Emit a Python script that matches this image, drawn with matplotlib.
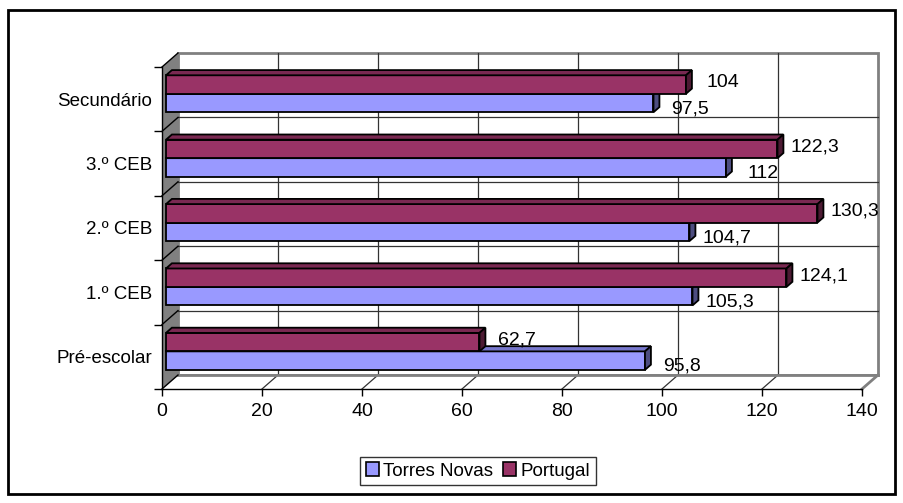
import matplotlib.pyplot as plt
from matplotlib.patches import Polygon, Rectangle, Patch

# the data
categories = ['Pré-escolar', '1.º CEB', '2.º CEB', '3.º CEB', 'Secundário']
torres_novas = [95.8, 105.3, 104.7, 112, 97.5]
portugal = [62.7, 124.1, 130.3, 122.3, 104]
x_ticks = [0, 20, 40, 60, 80, 100, 120, 140]
series_names = ['Torres Novas', 'Portugal']

plt.rcParams['font.family'] = ['Liberation Sans', 'DejaVu Sans']

W, H = 904, 503
fig = plt.figure(figsize=(W / 100, H / 100), dpi=100)
# the axes is the front plane of the 3d box
ax = fig.add_axes([162 / W, (H - 389) / H, 700 / W, 322 / H])
ax.set_xlim(0, 140)
ax.set_ylim(0, 5)

# depth of the box in data units
DX = 16 / 5.0
DY = 14 / 64.4
XMAX = 140

# back wall
ax.add_patch(Rectangle((DX, DY), XMAX, 5, facecolor='white', edgecolor='#808080',
                       lw=2, clip_on=False, zorder=1))
for v in x_ticks[1:-1]:
    ax.plot([v + DX, v + DX], [DY, 5 + DY], color='#333333', lw=0.9, clip_on=False, zorder=1.1)
for k in range(1, 5):
    ax.plot([DX, XMAX + DX], [k + DY, k + DY], color='#333333', lw=0.9, clip_on=False, zorder=1.1)

# floor
ax.add_patch(Polygon([(0, 0), (XMAX, 0), (XMAX + DX, DY), (DX, DY)], closed=True,
                     facecolor='white', edgecolor='none', clip_on=False, zorder=1.2))
for v in x_ticks[1:-1]:
    ax.plot([v, v + DX], [0, DY], color='#333333', lw=0.9, clip_on=False, zorder=1.3)
ax.plot([XMAX, XMAX + DX], [0, DY], color='#808080', lw=2, clip_on=False, zorder=1.3)
ax.plot([DX, XMAX + DX], [DY, DY], color='#808080', lw=2, clip_on=False, zorder=1.3)

# left side wall
ax.add_patch(Polygon([(0, 0), (DX, DY), (DX, 5 + DY), (0, 5)], closed=True,
                     facecolor='#808080', edgecolor='none', clip_on=False, zorder=1.4))
for k in range(0, 6):
    ax.plot([0, DX], [k, k + DY], color='black', lw=1, clip_on=False, zorder=1.5)

# bars with a little 3d face on top and on the right
h = 0.287
f0, f1 = 0.25, 0.62
ddx, ddy = (f1 - f0) * DX, (f1 - f0) * DY
x0 = f0 * DX

colors = {'Torres Novas': ('#9999FF', '#7777CC', '#4D4D80'),
          'Portugal': ('#993366', '#7A2952', '#4D1A33')}


def bar3d(y, value, cols, z):
    front, top, side = cols
    ax.barh(y, value, left=x0, height=h, color=front, edgecolor='black', lw=1.3, zorder=z)
    yb, yt = y - h / 2, y + h / 2
    x1 = x0 + value
    ax.add_patch(Polygon([(x0, yt), (x0 + ddx, yt + ddy), (x1 + ddx, yt + ddy), (x1, yt)],
                         closed=True, facecolor=top, edgecolor='black', lw=1.3, zorder=z))
    ax.add_patch(Polygon([(x1, yb), (x1, yt), (x1 + ddx, yt + ddy), (x1 + ddx, yb + ddy)],
                         closed=True, facecolor=side, edgecolor='black', lw=1.3, zorder=z))


def fmt(v):
    return f"{v:g}".replace('.', ',')


NUM_FS = 14
TXT_FS = 13.5

for i in range(len(categories)):
    center = i + 0.5 + 0.03
    y_tn = center - h / 2 + f0 * DY
    y_pt = center + h / 2 + f0 * DY
    bar3d(y_tn, torres_novas[i], colors['Torres Novas'], 3)
    bar3d(y_pt, portugal[i], colors['Portugal'], 4)
    ax.text(torres_novas[i] + 8.2, y_tn - 0.09, fmt(torres_novas[i]), ha='center', va='center',
            fontsize=NUM_FS, zorder=6)
    ax.text(portugal[i] + 8.2, y_pt + 0.03, fmt(portugal[i]), ha='center', va='center',
            fontsize=NUM_FS, zorder=6)

# axes lines and ticks
for s in ['top', 'right']:
    ax.spines[s].set_visible(False)
for s in ['left', 'bottom']:
    ax.spines[s].set_color('black')
    ax.spines[s].set_linewidth(1)
    ax.spines[s].set_zorder(2)
ax.set_xticks(x_ticks)
ax.set_xticklabels([str(t) for t in x_ticks])
ax.tick_params(axis='x', direction='out', length=5, width=1, pad=5, labelsize=NUM_FS)
ax.set_yticks(range(0, 6))
ax.set_yticklabels([])
ax.set_yticks([i + 0.5 for i in range(len(categories))], minor=True)
ax.set_yticklabels(categories, minor=True)
ax.tick_params(axis='y', which='major', direction='out', length=6, width=1)
ax.tick_params(axis='y', which='minor', length=0, pad=7, labelsize=TXT_FS)
ax.set_facecolor('none')

# legend
handles = [Patch(facecolor=colors[n][0], edgecolor='black', lw=1.2, label=n) for n in series_names]
leg = fig.legend(handles=handles, loc='center', bbox_to_anchor=(478 / W, 1 - 471 / H), ncol=2,
                 frameon=True, fancybox=False, edgecolor='black', fontsize=TXT_FS,
                 handlelength=0.7, handleheight=0.7, handletextpad=0.25, columnspacing=0.5,
                 borderpad=0.3, borderaxespad=0)
leg.get_frame().set_linewidth(1.0)

# outer border of the chart
fig.patches.append(Rectangle((8 / W, 9 / H), 887 / W, 484 / H, transform=fig.transFigure,
                             fill=False, edgecolor='black', lw=2))

fig.savefig('out.png', dpi=100)
